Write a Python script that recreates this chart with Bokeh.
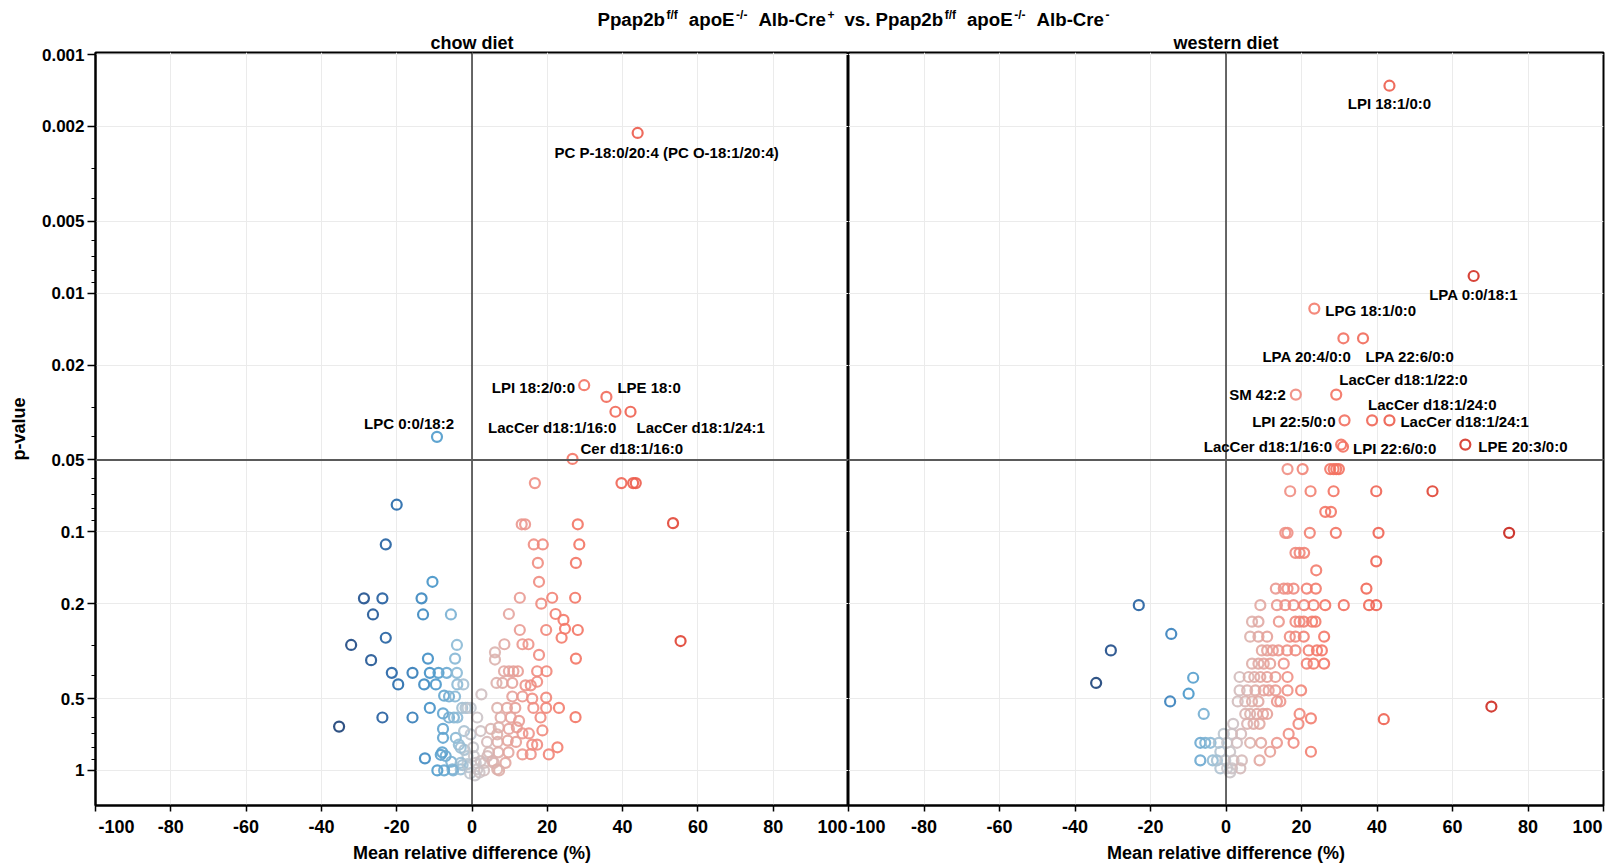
from bokeh.plotting import figure
from bokeh.models import (Range1d, FixedTicker, CustomJSTickFormatter, Span, ColumnDataSource,
                          Title)
from bokeh.layouts import column, row
from bokeh.core.properties import value
from bokeh.embed import file_html
from bokeh.resources import INLINE

FONT = "Liberation Sans"

# ---------------- data ----------------
panel_titles = ["chow diet", "western diet"]
x_label = "Mean relative difference (%)"
y_label = "p-value"
x_ticks = [-100, -80, -60, -40, -20, 0, 20, 40, 60, 80, 100]
y_ticks = [0.001, 0.002, 0.005, 0.01, 0.02, 0.05, 0.1, 0.2, 0.5, 1]
y_minor = [0.003, 0.004, 0.006, 0.007, 0.008, 0.009, 0.03, 0.04, 0.06, 0.07, 0.08, 0.09,
           0.3, 0.4, 0.6, 0.7, 0.8, 0.9]
p_threshold = 0.05

# chow diet: labelled lipids
chow_names = ["PC P-18:0/20:4 (PC O-18:1/20:4)", "LPI 18:2/0:0", "LPE 18:0",
              "LacCer d18:1/16:0", "LacCer d18:1/24:1", "LPC 0:0/18:2", "Cer d18:1/16:0"]
chow_named_diff = [44.0, 29.8, 35.7, 38.1, 42.1, -9.3, 26.7]
chow_named_p = [0.00213, 0.0243, 0.0272, 0.0314, 0.0314, 0.040, 0.0495]

# chow diet: other lipids
chow_diff = [
    -20.0, -22.9, -10.5, -28.7, -23.8, -13.4, -26.3, -13.0, -5.6, -22.9, -32.1, -4.0,
    -26.8, -11.7, -4.5, -21.3, -15.8, -11.2, -8.9, -6.7, -4.0, -19.6, -12.7, -9.6, -3.9,
    -2.3, -7.4, -6.1, -4.5, -11.2, -7.7, -23.8, -15.8, -6.1, -4.8, -3.9, -2.6, -1.2,
    -35.3, -7.7, -7.7, -4.3, -7.9, -8.3, -7.0, -12.5, -9.2, -5.0, -3.5, -2.0, -5.5, -2.5,
    -1.0, -3.0,
    16.7, 39.7, 42.8, 43.5, 13.2, 14.1, 28.1, 53.4, 16.4, 18.8, 28.5, 17.5, 27.6, 17.8,
    12.7, 21.3, 27.4, 18.4, 9.8, 22.2, 24.3, 12.7, 19.7, 24.7, 28.1, 23.8, 8.6, 13.4,
    15.0, 55.4, 6.1, 6.1, 17.8, 27.6, 8.5, 9.8, 11.0, 12.2, 17.3, 19.8, 6.5, 8.1, 10.7,
    14.2, 15.6, 17.3, 2.5, 10.7, 13.4, 16.0, 19.7, 23.1, 27.5, 16.3, 19.7, 18.2, 6.7, 9.3,
    11.5, 7.6, 10.3, 12.5, 7.1, 9.8, 11.9, 13.4, 15.1, 18.7, 4.0, 6.8, 9.5, 11.7, 16.0,
    17.3, 22.7, 13.4, 15.6, 20.4, 8.9, 7.2, 4.5, 7.0, 9.7, 3.2, 5.8,
    -1.7, -0.35, 1.4, -2.1, -0.35, 2.3, 5.0, 6.7, -3.0, -1.2, 0.5, 2.3, 4.1, 5.4, -3.0,
    -1.2, 1.4, 3.2, -5.2, -7.4, 6.7, 0.3, 1.0, -0.5, 0.8, 2.0]
chow_p = [
    0.077, 0.113, 0.162, 0.19, 0.19, 0.19, 0.222, 0.222, 0.222, 0.278, 0.298, 0.298,
    0.345, 0.34, 0.34, 0.39, 0.39, 0.39, 0.39, 0.39, 0.39, 0.436, 0.436, 0.436, 0.436,
    0.436, 0.486, 0.49, 0.49, 0.547, 0.577, 0.60, 0.60, 0.60, 0.60, 0.60, 0.547, 0.547,
    0.655, 0.67, 0.73, 0.73, 0.84, 0.86, 0.87, 0.89, 1.0, 1.0, 0.78, 0.82, 0.92, 0.95,
    0.97, 0.99,
    0.0625, 0.0625, 0.0625, 0.0625, 0.093, 0.093, 0.093, 0.092, 0.113, 0.113, 0.113, 0.135,
    0.135, 0.162, 0.189, 0.189, 0.189, 0.2, 0.221, 0.221, 0.234, 0.258, 0.258, 0.255,
    0.258, 0.278, 0.296, 0.296, 0.296, 0.287, 0.32, 0.343, 0.328, 0.34, 0.384, 0.384,
    0.384, 0.384, 0.384, 0.384, 0.43, 0.43, 0.43, 0.44, 0.44, 0.425, 0.48, 0.49, 0.49,
    0.50, 0.495, 0.547, 0.598, 0.547, 0.547, 0.60, 0.547, 0.547, 0.547, 0.60, 0.60, 0.62,
    0.66, 0.67, 0.66, 0.70, 0.70, 0.68, 0.76, 0.76, 0.75, 0.76, 0.78, 0.78, 0.80, 0.857,
    0.855, 0.857, 0.93, 1.0, 0.84, 0.84, 0.84, 0.93, 0.93,
    0.547, 0.547, 0.60, 0.684, 0.706, 0.684, 0.67, 0.706, 0.803, 0.871, 0.871, 0.914,
    0.871, 0.914, 0.929, 0.94, 0.99, 1.0, 0.99, 1.0, 0.99, 0.80, 0.93, 1.03, 1.05, 1.02]

# western diet: labelled lipids
west_names = ["LPI 18:1/0:0", "LPA 0:0/18:1", "LPG 18:1/0:0", "LPA 20:4/0:0", "LPA 22:6/0:0",
              "SM 42:2", "LacCer d18:1/22:0", "LPI 22:5/0:0", "LacCer d18:1/24:0",
              "LacCer d18:1/24:1", "LacCer d18:1/16:0", "LPI 22:6/0:0", "LPE 20:3/0:0"]
west_named_diff = [43.3, 65.6, 23.4, 31.1, 36.3, 18.5, 29.2, 31.4, 38.7, 43.3, 30.5, 31.0, 63.4]
west_named_p = [0.00135, 0.00847, 0.0116, 0.01545, 0.01545, 0.0266, 0.0266, 0.0341, 0.0341,
                0.0341, 0.0431, 0.0440, 0.0431]

# western diet: other lipids
west_diff = [
    -23.1, -14.5, -30.5, -34.4, -8.7, -9.9, -14.8, -5.9, -6.8, -5.5, -4.1, -6.8, -3.5,
    16.3, 20.3, 27.6, 28.5, 29.2, 29.9,
    17.0, 22.4, 28.5, 39.8, 54.7,
    26.3, 27.8,
    15.7, 16.3, 22.2, 29.1, 40.4, 75.0,
    18.4, 19.5, 20.7, 39.8, 23.9,
    13.2, 15.3, 16.3, 17.9, 21.4, 23.8, 37.2,
    9.1, 13.5, 15.7, 17.9, 20.7, 23.2, 26.3, 31.2, 37.9, 39.8,
    6.9, 8.6, 14.0, 18.4, 19.5, 20.6, 22.8, 23.7,
    6.4, 8.6, 10.9, 16.9, 18.4, 20.6, 26.0,
    9.5, 10.9, 12.4, 13.9, 16.2, 18.4, 21.9, 24.1, 25.4,
    6.9, 8.6, 10.0, 11.7, 15.3, 21.4, 23.2, 26.0,
    3.6, 6.0, 7.5, 9.1, 10.9, 13.1, 16.3,
    3.6, 5.6, 7.8, 10.0, 11.3, 13.1, 16.3, 19.9,
    3.1, 5.1, 6.9, 8.6, 13.5, 14.4, 70.3,
    5.1, 6.4, 8.2, 9.8, 10.9, 19.5, 22.5, 41.8,
    1.9, 5.6, 7.3, 8.9, 19.2,
    -0.6, 1.6, 4.0, 16.6,
    -1.9, 0.3, 2.9, 6.4, 9.3, 13.5, 17.9,
    -1.5, 1.1, 11.7, 22.5,
    -2.4, -0.2, 2.0, 4.2, 8.9,
    -1.5, 0.3, 1.6, 3.8, 1.1]
west_p = [
    0.203, 0.268, 0.314, 0.43, 0.409, 0.477, 0.514, 0.58, 0.766, 0.766, 0.766, 0.908, 0.908,
    0.0546, 0.0546, 0.0546, 0.0546, 0.0546, 0.0546,
    0.0676, 0.0676, 0.0676, 0.0676, 0.0676,
    0.0825, 0.0825,
    0.101, 0.101, 0.101, 0.101, 0.101, 0.101,
    0.1225, 0.1225, 0.1225, 0.133, 0.145,
    0.173, 0.173, 0.173, 0.173, 0.173, 0.173, 0.173,
    0.203, 0.203, 0.203, 0.203, 0.203, 0.203, 0.203, 0.203, 0.203, 0.203,
    0.238, 0.238, 0.238, 0.238, 0.238, 0.238, 0.238, 0.238,
    0.275, 0.275, 0.275, 0.275, 0.275, 0.275, 0.275,
    0.314, 0.314, 0.314, 0.314, 0.314, 0.314, 0.314, 0.314, 0.314,
    0.357, 0.357, 0.357, 0.357, 0.357, 0.357, 0.357, 0.357,
    0.406, 0.406, 0.406, 0.406, 0.406, 0.406, 0.406,
    0.462, 0.462, 0.462, 0.462, 0.462, 0.462, 0.462, 0.462,
    0.514, 0.514, 0.514, 0.514, 0.514, 0.514, 0.54,
    0.58, 0.58, 0.58, 0.58, 0.58, 0.58, 0.605, 0.61,
    0.638, 0.638, 0.638, 0.638, 0.638,
    0.703, 0.703, 0.703, 0.703,
    0.766, 0.766, 0.766, 0.766, 0.766, 0.766, 0.766,
    0.835, 0.835, 0.835, 0.835,
    0.908, 0.908, 0.908, 0.908, 0.908,
    0.98, 0.98, 0.98, 0.98, 1.02]

# ---------------- style ----------------
chow_label_dx = [29, -9, 11, 1, 6, -28, 8]
chow_label_dy = [19.5, 2, -9, 16, 16, -13, -10]
chow_label_align = ["center", "right", "left", "right", "left", "center", "left"]
west_label_dx = [0, 0, 11, -36.5, 47, -10, 3, -9, -4, 11, -9, 10, 13]
west_label_dy = [18, 19, 2, 18, 18, 0, -15, 1, -16, 1, 2, 2, 2]
west_label_align = ["center", "center", "left", "center", "center", "right", "left", "right",
                    "left", "left", "right", "left", "left"]

colour_stops = [(-40, (22, 52, 100)), (-30, (30, 76, 138)), (-20, (36, 104, 170)),
                (-10, (70, 150, 202)), (-4, (140, 186, 214)), (0, (198, 200, 206)),
                (6, (220, 178, 174)), (15, (238, 146, 136)), (25, (244, 120, 104)),
                (40, (240, 100, 84)), (55, (224, 66, 50)), (75, (200, 34, 26))]


def colour(d):
    if d <= colour_stops[0][0]:
        c = colour_stops[0][1]
    elif d >= colour_stops[-1][0]:
        c = colour_stops[-1][1]
    else:
        for (a, ca), (b, cb) in zip(colour_stops[:-1], colour_stops[1:]):
            if a <= d <= b:
                t = (d - a) / (b - a)
                c = tuple(ca[i] + (cb[i] - ca[i]) * t for i in range(3))
                break
    return "#%02x%02x%02x" % tuple(int(round(v)) for v in c)


# layout (the Bokeh page template has no body margin)
LEFT_BORDER = 95
FW = [753, 755]
FH = 753
RIGHT_BORDER = 3
TOTAL_W = LEFT_BORDER + FW[0] + FW[1] + RIGHT_BORDER
TOP_H = 30          # overall title
ROW_TOP_B = 21      # panel titles live here
ROW_BOT_B = 8
FOOT_H = 50         # x tick labels + x-axis titles
FRAME_LEFT = [LEFT_BORDER, LEFT_BORDER + FW[0]]


def make_panel(diff, pv, names, ndiff, np_, dx, dy, align, side, yr):
    left_side = side == 0
    p = figure(frame_width=FW[side], frame_height=FH, title=None,
               x_range=Range1d(-100, 100), y_range=yr, y_axis_type="log",
               output_backend="svg", toolbar_location=None,
               min_border_left=LEFT_BORDER if left_side else 0,
               min_border_right=0 if left_side else RIGHT_BORDER,
               min_border_top=ROW_TOP_B, min_border_bottom=ROW_BOT_B)
    p.title = Title(text=panel_titles[side], align="center", vertical_align="bottom",
                    standoff=0, text_font=FONT, text_font_size="18px",
                    text_font_style="bold", text_color="black")
    p.background_fill_color = "white"
    p.border_fill_color = "white"
    p.outline_line_color = "black"
    p.outline_line_width = 2

    xt = FixedTicker(ticks=x_ticks)
    yt = FixedTicker(ticks=y_ticks, minor_ticks=y_minor)
    p.xaxis.ticker = xt
    p.xgrid.ticker = xt
    p.yaxis.ticker = yt
    p.ygrid.ticker = FixedTicker(ticks=y_ticks)
    p.grid.grid_line_color = "#ebebeb"
    p.grid.grid_line_width = 1

    p.xaxis.formatter = CustomJSTickFormatter(code='return "";')
    p.yaxis.formatter = CustomJSTickFormatter(code="return tick.toString();")

    for ax in (p.xaxis[0], p.yaxis[0]):
        ax.axis_line_color = "black"
        ax.axis_line_width = 2
        ax.major_tick_line_color = "black"
        ax.major_tick_line_width = 1.5
        ax.minor_tick_line_color = "black"
        ax.minor_tick_line_width = 1.2
        ax.major_tick_in = 0
        ax.minor_tick_in = 0
        ax.major_label_text_font = FONT
        ax.major_label_text_font_style = "bold"
        ax.major_label_text_color = "black"
        ax.axis_label_text_font = FONT
        ax.axis_label_text_font_style = "bold"
        ax.axis_label_text_color = "black"
        ax.axis_label_text_font_size = "18px"

    # x tick labels are drawn in the footer so the end labels can be aligned as in the original
    p.xaxis.major_tick_out = 6
    p.xaxis.minor_tick_out = 0
    p.xaxis.major_label_standoff = 0
    p.xaxis.major_label_text_font_size = "0px"

    p.yaxis.major_tick_out = 8
    p.yaxis.minor_tick_out = 4
    p.yaxis.major_label_standoff = 3
    p.yaxis.major_label_text_font_size = "17px"
    if left_side:
        p.yaxis.axis_label = y_label
        p.yaxis.axis_label_standoff = 10
    else:
        p.yaxis.visible = False

    p.add_layout(Span(location=0, dimension="height", line_color="#1a1a1a", line_width=1.3))
    p.add_layout(Span(location=p_threshold, dimension="width", line_color="#5a5a5a",
                      line_width=2))

    all_d = list(diff) + list(ndiff)
    all_p = list(pv) + list(np_)
    src = ColumnDataSource(dict(x=all_d, y=all_p, c=[colour(d) for d in all_d]))
    p.scatter("x", "y", source=src, marker="circle", size=10, fill_color=None,
              line_color="c", line_width=2.2, line_alpha=0.9)

    lsrc = ColumnDataSource(dict(x=ndiff, y=np_, t=names, dx=dx, dy=dy, al=align))
    p.text("x", "y", text="t", source=lsrc, x_offset="dx", y_offset="dy", text_align="al",
           text_baseline="middle", text_font=value(FONT), text_font_style="bold",
           text_font_size="15px", text_color="black")
    return p


yr = Range1d(1.403, 0.00098)
left = make_panel(chow_diff, chow_p, chow_names, chow_named_diff, chow_named_p,
                  chow_label_dx, chow_label_dy, chow_label_align, 0, yr)
right = make_panel(west_diff, west_p, west_names, west_named_diff, west_named_p,
                   west_label_dx, west_label_dy, west_label_align, 1, yr)


def blank(h):
    f = figure(frame_width=TOTAL_W, frame_height=h, title=None,
               x_range=Range1d(0, TOTAL_W), y_range=Range1d(h, 0),
               x_axis_location=None, y_axis_location=None,
               output_backend="svg", toolbar_location=None, min_border=0,
               min_border_left=0, min_border_right=0, min_border_top=0, min_border_bottom=0)
    f.grid.visible = False
    f.outline_line_color = None
    f.background_fill_color = "white"
    f.border_fill_color = "white"
    return f


def txt(f, xs, ys, texts, size, align):
    f.text(x=xs, y=ys, text=texts, text_align=align, text_baseline="middle",
           text_font=value(FONT), text_font_style="bold", text_font_size=size,
           text_color="black")


panel_cx = [FRAME_LEFT[0] + FW[0] / 2, FRAME_LEFT[1] + FW[1] / 2]

# ---------------- header: overall title with superscripts ----------------
top = blank(TOP_H)
WID = {' ': 278, '.': 278, '/': 278, '-': 333, '+': 584, 'P': 667, 'p': 611, 'a': 556,
       'b': 611, 'o': 611, 'E': 667, 'A': 722, 'l': 278, 'C': 722, 'r': 389, 'e': 556,
       'v': 556, 's': 556, 'f': 333, '2': 556}
BASE, SUP = 18.7, 12.0
title_pieces = [("Ppap2b", 0), ("f/f", 1), ("apoE", 0), ("-/-", 1), ("Alb-Cre", 0), ("+", 1),
                ("vs.", 0), ("Ppap2b", 0), ("f/f", 1), ("apoE", 0), ("-/-", 1),
                ("Alb-Cre", 0), ("-", 1)]


def tw(s, size):
    return sum(WID.get(ch, 556) for ch in s) / 1000.0 * size


offs, prev, cur = [], None, 0.0
for t, sup in title_pieces:
    if prev is not None:
        if sup:
            cur += 1.5
        elif prev[1]:
            cur += 10.0 if prev[0] == "+" else 11.0
        else:
            cur += 5.2
    offs.append(cur)
    cur += tw(t, SUP if sup else BASE)
    prev = (t, sup)
title_x0 = 853.0 - cur / 2
bx = [title_x0 + o for (t, s), o in zip(title_pieces, offs) if not s]
bt = [t for t, s in title_pieces if not s]
sx = [title_x0 + o for (t, s), o in zip(title_pieces, offs) if s]
st = [t for t, s in title_pieces if s]
txt(top, bx, [18.5] * len(bx), bt, "%.1fpx" % BASE, "left")
txt(top, sx, [14.0] * len(sx), st, "%.1fpx" % SUP, "left")

# ---------------- footer: x tick labels + x-axis titles ----------------
foot = blank(FOOT_H)
tx, tt, tal = [], [], []
for side in (0, 1):
    for t in x_ticks:
        px = FRAME_LEFT[side] + (t - x_ticks[0]) * FW[side] / (x_ticks[-1] - x_ticks[0])
        if t == x_ticks[0]:
            tx.append(px + (3 if side == 0 else 1))
            tal.append("left")
        elif t == x_ticks[-1]:
            tx.append(px - 1)
            tal.append("right")
        else:
            tx.append(px)
            tal.append("center")
        tt.append(str(t))
foot.text(x=tx, y=[12.5] * len(tx), text=tt, text_align=tal, text_baseline="middle",
          text_font=value(FONT), text_font_style="bold", text_font_size="18px",
          text_color="black")
txt(foot, panel_cx, [39.5, 39.5], [x_label, x_label], "18px", "center")

layout = column(top, row(left, right), foot)
open("out.html", "w").write(file_html(layout, INLINE))
